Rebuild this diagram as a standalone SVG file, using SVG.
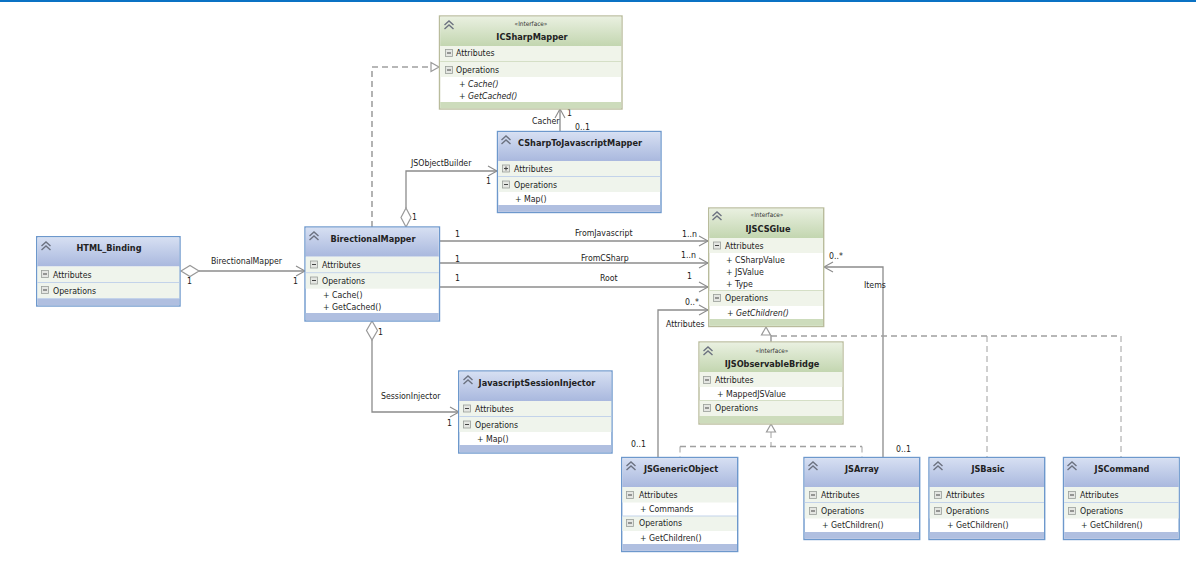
<svg xmlns="http://www.w3.org/2000/svg" width="1196" height="576" viewBox="0 0 1196 576">
<style>
text{font-family:"DejaVu Sans Condensed","DejaVu Sans",sans-serif;font-size:8.7px;fill:#1c1c1c}
.t{font-weight:bold;font-size:9.1px;text-anchor:middle;fill:#222}
.s{font-size:6.4px;text-anchor:middle;fill:#333}
.i{font-style:italic}
.c{fill:none;stroke:#8c8c8c;stroke-width:1.3}
.a{fill:none;stroke:#8c8c8c;stroke-width:1.1}
.d{fill:none;stroke:#a0a0a0;stroke-width:1.6;stroke-dasharray:6 4}
.dv{fill:none;stroke:#a0a0a0;stroke-width:1;stroke-dasharray:6 4}
.o{fill:#fff;stroke:#999;stroke-width:1.2}
.bb{fill:#fff;stroke:#6d98cc;stroke-width:1.4}
.gb{fill:#fff;stroke:#b9bc9c;stroke-width:1.4}
.bh{fill:url(#bg)}.gh{fill:url(#gg)}
.bf{fill:#b0bfe0}.gf{fill:#cddcbc}
.r{fill:#eff4ec}.gr{fill:#f0f4ea}
.l{stroke:#c3d3ea;stroke-width:1}.gl{stroke:#d5dfc6;stroke-width:1}
.chev{fill:none;stroke:#6c7280;stroke-width:1.4}
.box{fill:#e4e6e2;stroke:#9a9f9a;stroke-width:.8}
.min{stroke:#444;stroke-width:1}
</style>
<defs>
<linearGradient id="bg" x1="0" y1="0" x2="0" y2="1"><stop offset="0" stop-color="#d6dff2"/><stop offset="1" stop-color="#a9b8de"/></linearGradient>
<linearGradient id="gg" x1="0" y1="0" x2="0" y2="1"><stop offset="0" stop-color="#e9f0e0"/><stop offset="1" stop-color="#c3d6b0"/></linearGradient>
<g id="ch"><path class="chev" d="M-4.500 0 0-4 4.500 0M-4.500 4 0 0 4.500 4"/></g>
<g id="mi"><rect class="box" x="-3.500" y="-3.500" width="7" height="7"/><path class="min" d="M-2 0H2"/></g>
<g id="pl"><rect class="box" x="-3.500" y="-3.500" width="7" height="7"/><path class="min" d="M-2 0H2M0-2V2"/></g>
</defs>
<rect width="1196" height="576" fill="#fff"/>
<rect width="1196" height="2" fill="#0a72c4"/>

<g id="connectors">
<path class="c" d="M199 271H305"/><path class="a" d="M296 266 305 271 296 276"/><path class="o" d="M181 271 190 265.500 199 271 190 276.500Z"/>
<path class="d" d="M372 227V67H431"/><path class="o" d="M431 62.500 439 67 431 71.500Z"/>
<path class="c" d="M406 208V171H497"/><path class="a" d="M488 166 497 171 488 176"/><path class="o" d="M406 208 401 217.500 406 227 411 217.500Z"/>
<path class="c" d="M560 131V109"/><path class="a" d="M555 118 560 109 565 118"/>
<path class="c" d="M440 241H708"/><path class="a" d="M699 236 708 241 699 246"/>
<path class="c" d="M440 263H708"/><path class="a" d="M699 258 708 263 699 268"/>
<path class="c" d="M440 287H708"/><path class="a" d="M699 282 708 287 699 292"/>
<path class="c" d="M658 457V310H708"/><path class="a" d="M699 305 708 310 699 315"/>
<path class="c" d="M883 457V267H824"/><path class="a" d="M833 262 824 267 833 272"/>
<path class="c" d="M372 340V412H459"/><path class="a" d="M450 407 459 412 450 417"/><path class="o" d="M372 321 366.500 330.500 372 340 377.500 330.500Z"/>
<path class="c" d="M771 342V335"/>
<path class="d" d="M771 336H1121"/><path class="dv" d="M987 336V457M1121 336V457"/>
<path class="o" d="M766 327 761.500 335H770.500Z"/>
<path class="dv" d="M771 432V446"/><path class="d" d="M680 446.500H862"/><path class="dv" d="M680 446.500V457M862 446.500V457"/>
<path class="o" d="M771 424 766.500 432H775.500Z"/>
</g>

<g id="labels">
<text x="211" y="264">BirectionalMapper</text><text x="187" y="284">1</text><text x="293" y="284">1</text>
<text x="411" y="166">JSObjectBuilder</text><text x="412" y="220">1</text><text x="486" y="184">1</text>
<text x="532" y="124">Cacher</text><text x="567" y="116">1</text><text x="575" y="130">0..1</text>
<text x="455" y="237">1</text><text x="575" y="236">FromJavascript</text><text x="682" y="237">1..n</text>
<text x="455" y="262">1</text><text x="581" y="261">FromCSharp</text><text x="681" y="258">1..n</text>
<text x="455" y="281">1</text><text x="600" y="281">Root</text><text x="687" y="279">1</text>
<text x="685" y="305">0..*</text><text x="666" y="327">Attributes</text><text x="631" y="447">0..1</text>
<text x="829" y="259">0..*</text><text x="864" y="288">Items</text><text x="896" y="452">0..1</text>
<text x="378" y="335">1</text><text x="381" y="399">SessionInjector</text><text x="447" y="426">1</text>
</g>

<g id="HTML_Binding">
<rect class="bb" x="36.700" y="236.700" width="143.300" height="69.300"/><rect class="bh" x="37.500" y="237.500" width="141.800" height="29"/>
<rect class="r" x="37.500" y="266.500" width="141.800" height="16"/><rect class="r" x="37.500" y="282.500" width="141.800" height="16"/><rect class="bf" x="37.500" y="298.500" width="141.800" height="7"/>
<path class="l" d="M37.500 282.500H179.300M37.500 298.500H179.300"/>
<use href="#ch" x="46" y="246"/><text class="t" x="109" y="251">HTML_Binding</text>
<use href="#mi" x="45" y="274"/><text x="53" y="277.500">Attributes</text><use href="#mi" x="45" y="290"/><text x="53" y="293.500">Operations</text>
</g>

<g id="BirectionalMapper">
<rect class="bb" x="305" y="227" width="134.500" height="94"/><rect class="bh" x="305.700" y="227.700" width="133" height="29"/>
<rect class="r" x="305.700" y="256.700" width="133" height="16"/><rect class="r" x="305.700" y="272.700" width="133" height="16"/><rect class="bf" x="305.700" y="313" width="133" height="7.300"/>
<path class="l" d="M305.700 272.700H438.700"/>
<use href="#ch" x="314" y="236"/><text class="t" x="373" y="242">BirectionalMapper</text>
<use href="#mi" x="314" y="264.500"/><text x="322" y="268">Attributes</text><use href="#mi" x="314" y="280.500"/><text x="322" y="284">Operations</text>
<text x="323" y="298">+ Cache()</text><text x="323" y="310">+ GetCached()</text>
</g>

<g id="ICSharpMapper">
<rect class="gb" x="439.500" y="16" width="182.500" height="93"/><rect class="gh" x="440.200" y="16.700" width="181" height="29.300"/>
<rect class="gr" x="440.200" y="46" width="181" height="16"/><rect class="gr" x="440.200" y="62" width="181" height="15"/><rect class="gf" x="440.200" y="102" width="181" height="6.300"/>
<path class="gl" d="M440.200 61.500H621.200"/>
<use href="#ch" x="449" y="25"/><text class="s" x="531" y="26">«Interface»</text><text class="t" x="532" y="40">ICSharpMapper</text>
<use href="#mi" x="449" y="53"/><text x="456" y="56">Attributes</text><use href="#mi" x="449" y="70"/><text x="456" y="73">Operations</text>
<text class="i" x="459" y="87">+ Cache()</text><text class="i" x="459" y="99">+ GetCached()</text>
</g>

<g id="CSharpToJavascriptMapper">
<rect class="bb" x="497.500" y="131.500" width="163.500" height="81"/><rect class="bh" x="498.200" y="132.200" width="162" height="29"/>
<rect class="r" x="498.200" y="161" width="162" height="15.500"/><rect class="r" x="498.200" y="176.500" width="162" height="15.500"/><rect class="bf" x="498.200" y="205" width="162" height="6.800"/>
<path class="l" d="M498.200 176.500H660.200"/>
<use href="#ch" x="506" y="140"/><text class="t" x="580" y="146">CSharpToJavascriptMapper</text>
<use href="#pl" x="506" y="168.500"/><text x="514" y="172">Attributes</text><use href="#mi" x="506" y="184.500"/><text x="514" y="188">Operations</text>
<text x="515" y="202">+ Map()</text>
</g>

<g id="IJSCSGlue">
<rect class="gb" x="708.700" y="208" width="115" height="118.500"/><rect class="gh" x="709.400" y="208.700" width="113.600" height="29.300"/>
<rect class="gr" x="709.400" y="238" width="113.600" height="15"/><rect class="gr" x="709.400" y="290.500" width="113.600" height="15.500"/><rect class="gf" x="709.400" y="319" width="113.600" height="6.800"/>
<path class="gl" d="M709.400 290.500H823"/>
<use href="#ch" x="717" y="216"/><text class="s" x="767" y="217">«Interface»</text><text class="t" x="768" y="232">IJSCSGlue</text>
<use href="#mi" x="717" y="245.500"/><text x="725" y="248.500">Attributes</text>
<text x="726" y="263">+ CSharpValue</text><text x="726" y="275">+ JSValue</text><text x="726" y="287">+ Type</text>
<use href="#mi" x="717" y="298"/><text x="725" y="301">Operations</text>
<text class="i" x="727" y="316">+ GetChildren()</text>
</g>

<g id="IJSObservableBridge">
<rect class="gb" x="699" y="342" width="144" height="82"/><rect class="gh" x="699.700" y="342.700" width="142.600" height="29.300"/>
<rect class="gr" x="699.700" y="372" width="142.600" height="15"/><rect class="gr" x="699.700" y="400.500" width="142.600" height="15.500"/><rect class="gf" x="699.700" y="416" width="142.600" height="7.300"/>
<path class="gl" d="M699.700 400.500H842.300"/>
<use href="#ch" x="708" y="351"/><text class="s" x="772" y="353">«Interface»</text><text class="t" x="772" y="367">IJSObservableBridge</text>
<use href="#mi" x="707" y="380"/><text x="715" y="383">Attributes</text><text x="717" y="397">+ MappedJSValue</text>
<use href="#mi" x="707" y="408"/><text x="715" y="411">Operations</text>
</g>

<g id="JavascriptSessionInjector">
<rect class="bb" x="458.700" y="371" width="153.300" height="82"/><rect class="bh" x="459.400" y="371.700" width="151.900" height="29.300"/>
<rect class="r" x="459.400" y="401" width="151.900" height="15.500"/><rect class="r" x="459.400" y="416.500" width="151.900" height="15.500"/><rect class="bf" x="459.400" y="445" width="151.900" height="7.300"/>
<path class="l" d="M459.400 416.500H611.300"/>
<use href="#ch" x="468" y="380"/><text class="t" x="537" y="386">JavascriptSessionInjector</text>
<use href="#mi" x="467" y="408.500"/><text x="475" y="412">Attributes</text><use href="#mi" x="467" y="424.500"/><text x="475" y="428">Operations</text>
<text x="477" y="442">+ Map()</text>
</g>

<g id="JSGenericObject">
<rect class="bb" x="621.700" y="457.500" width="116" height="94"/><rect class="bh" x="622.400" y="458.200" width="114.600" height="29"/>
<rect class="r" x="622.400" y="487" width="114.600" height="15.500"/><rect class="r" x="622.400" y="516" width="114.600" height="15"/><rect class="bf" x="622.400" y="544" width="114.600" height="6.800"/>
<path class="l" d="M622.400 516H737"/>
<use href="#ch" x="631" y="466"/><text class="t" x="681" y="472">JSGenericObject</text>
<use href="#mi" x="630" y="495"/><text x="639" y="498">Attributes</text><text x="640" y="512">+ Commands</text>
<use href="#mi" x="630" y="523"/><text x="639" y="526">Operations</text><text x="640" y="541">+ GetChildren()</text>
</g>

<g id="JSArray">
<rect class="bb" x="804" y="457.500" width="115.700" height="82"/><rect class="bh" x="804.700" y="458.200" width="114.300" height="29"/>
<rect class="r" x="804.700" y="487" width="114.300" height="15.500"/><rect class="r" x="804.700" y="502.500" width="114.300" height="16"/><rect class="bf" x="804.700" y="532" width="114.300" height="6.800"/>
<path class="l" d="M804.700 502.500H919"/>
<use href="#ch" x="813" y="466"/><text class="t" x="862" y="472">JSArray</text>
<use href="#mi" x="813" y="495"/><text x="821" y="498">Attributes</text><use href="#mi" x="813" y="511"/><text x="821" y="514">Operations</text>
<text x="822" y="528">+ GetChildren()</text>
</g>

<g id="JSBasic">
<rect class="bb" x="929" y="457.500" width="115.700" height="82"/><rect class="bh" x="929.700" y="458.200" width="114.300" height="29"/>
<rect class="r" x="929.700" y="487" width="114.300" height="15.500"/><rect class="r" x="929.700" y="502.500" width="114.300" height="16"/><rect class="bf" x="929.700" y="532" width="114.300" height="6.800"/>
<path class="l" d="M929.700 502.500H1044"/>
<use href="#ch" x="938" y="466"/><text class="t" x="988" y="472">JSBasic</text>
<use href="#mi" x="938" y="495"/><text x="946" y="498">Attributes</text><use href="#mi" x="938" y="511"/><text x="946" y="514">Operations</text>
<text x="947" y="528">+ GetChildren()</text>
</g>

<g id="JSCommand">
<rect class="bb" x="1063.500" y="457.500" width="115.700" height="82"/><rect class="bh" x="1064.200" y="458.200" width="114.300" height="29"/>
<rect class="r" x="1064.200" y="487" width="114.300" height="15.500"/><rect class="r" x="1064.200" y="502.500" width="114.300" height="16"/><rect class="bf" x="1064.200" y="532" width="114.300" height="6.800"/>
<path class="l" d="M1064.200 502.500H1178.500"/>
<use href="#ch" x="1072" y="466"/><text class="t" x="1122" y="472">JSCommand</text>
<use href="#mi" x="1072" y="495"/><text x="1080" y="498">Attributes</text><use href="#mi" x="1072" y="511"/><text x="1080" y="514">Operations</text>
<text x="1081" y="528">+ GetChildren()</text>
</g>
</svg>
